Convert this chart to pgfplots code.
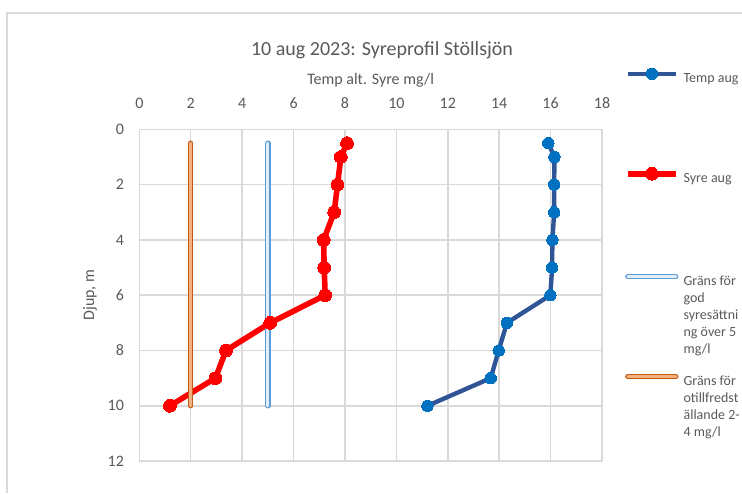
\documentclass[border=0pt]{standalone}
\usepackage{fontspec}
\setmainfont{Carlito}
\usepackage{pgfplots}
\pgfplotsset{compat=1.18}
\definecolor{templine}{HTML}{2F5597}
\definecolor{tempmark}{HTML}{0070C0}
\definecolor{gridc}{HTML}{D9D9D9}
\definecolor{txt}{HTML}{595959}
\definecolor{blueout}{HTML}{5B9BD5}
\definecolor{bluein}{HTML}{E4EEF8}
\definecolor{orout}{HTML}{C55A11}
\definecolor{orin}{HTML}{F4B183}
\newcommand{\legtxt}[1]{\parbox[t]{62pt}{\raggedright\strut #1}}
\pgfplotsset{deeplegend/.style={legend image code/.code={\path[draw=none, fill=none] (0pt,-8.25pt) rectangle (36pt,12pt);
    \draw[mark repeat=2,mark phase=2,##1,yshift=3pt] plot coordinates {(0pt,0pt) (18pt,0pt) (36pt,0pt)};}}}
\begin{document}
\begin{tikzpicture}
\path[use as bounding box] (0,0) rectangle (556.5pt,-369.75pt);
\draw[gridc, line width=1.6pt] (5.25pt,-370pt) -- (5.25pt,-9.75pt) -- (557pt,-9.75pt);
\node[txt, anchor=base, font=\fontsize{15}{18}\selectfont] at (286.5pt,-41.6pt) {10 aug 2023: Syreprofil Stöllsjön};
\begin{axis}[
  at={(104.5pt,-97pt)}, anchor=north west,
  scale only axis, width=347pt, height=248.8pt,
  xmin=0, xmax=18, ymin=0, ymax=12, y dir=reverse,
  xtick={0,2,...,18}, ytick={0,2,...,12},
  xticklabel pos=upper,
  grid=major, major grid style={gridc, line width=1.1pt},
  axis line style={gridc, line width=1.1pt},
  major tick length=0pt,
  ticklabel style={txt, font=\fontsize{12}{14}\selectfont},
  /pgf/number format/assume math mode=true,
  xticklabel style={anchor=base, yshift=16pt},
  yticklabel style={anchor=east, xshift=-8pt},
  xlabel={Temp alt. Syre mg/l}, ylabel={Djup, m},
  xlabel style={txt, font=\fontsize{12}{14}\selectfont, at={(axis description cs:0.5,1)}, anchor=base, yshift=33.6pt},
  ylabel style={txt, font=\fontsize{12}{14}\selectfont, at={(axis description cs:-0.1066,0.5)}, anchor=center},
  legend image code/.code={\path[draw=none, fill=none] (0pt,-6pt) rectangle (36pt,12pt);
    \draw[mark repeat=2,mark phase=2,#1,yshift=3pt] plot coordinates {(0pt,0pt) (18pt,0pt) (36pt,0pt)};},
  legend style={at={(axis description cs:1.0497,1.2038)}, anchor=north west, draw=none, fill=none,
    inner sep=0pt, outer sep=0pt, row sep=57pt, column sep=3.75pt,
    nodes={inner sep=0pt, outer sep=0pt, text=txt, font=\fontsize{10.5}{12.8}\selectfont},
    cells={anchor=base west}},
  legend cell align=left,
]
\addplot[templine, line width=3.3pt, line join=round, mark=*, mark size=4.3pt,
  mark options={fill=tempmark, draw=tempmark, line width=0pt}] coordinates {
  (15.91,0.5) (16.15,1) (16.14,2) (16.14,3) (16.07,4) (16.06,5) (15.99,6)
  (14.30,7) (13.98,8) (13.67,9) (11.21,10)};
\addlegendentry{\legtxt{Temp aug}}
\addplot[red, line width=4.2pt, line join=round, mark=*, mark size=4.8pt,
  mark options={fill=red, draw=red, line width=0pt}, deeplegend] coordinates {
  (8.08,0.5) (7.84,1) (7.71,2) (7.58,3) (7.17,4) (7.19,5) (7.23,6)
  (5.09,7) (3.37,8) (2.96,9) (1.19,10)};
\addlegendentry{\legtxt{Syre aug}}
\addplot[blueout, line width=0.9pt, double=bluein, double distance=2.2pt, line cap=round] coordinates {
  (5,0.5) (5,10)};
\addlegendentry{\legtxt{Gräns för\\god\\syresättni\\ng över 5\\mg/l}}
\addplot[orout, line width=0.9pt, double=orin, double distance=2.2pt, line cap=round] coordinates {
  (2,0.5) (2,10)};
\addlegendentry{\legtxt{Gräns för\\otillfredst\\ällande 2-\\4 mg/l}}
\end{axis}
\end{tikzpicture}
\end{document}
